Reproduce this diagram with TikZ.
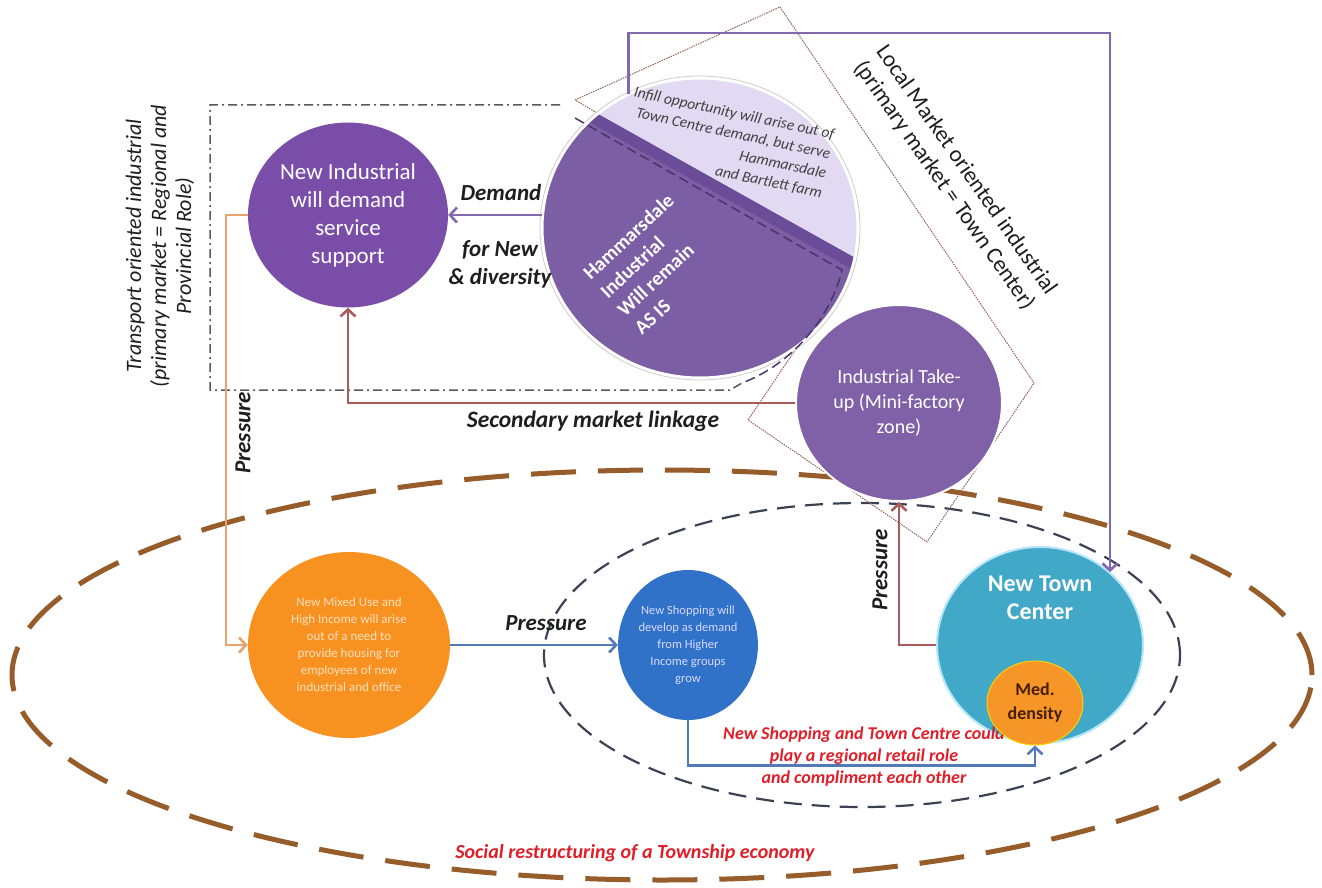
\documentclass[tikz,border=0pt]{standalone}
\usepackage{fontspec}
\setmainfont{Carlito}
\usetikzlibrary{shapes.geometric, arrows.meta, positioning, calc}

\definecolor{indpurple}{RGB}{122,78,168}
\definecolor{hammdark}{RGB}{124,94,164}
\definecolor{hammband}{RGB}{106,76,152}
\definecolor{hammlight}{RGB}{226,218,242}
\definecolor{takepurple}{RGB}{128,97,168}
\definecolor{towncyan}{RGB}{66,168,200}
\definecolor{mixorange}{RGB}{247,146,32}
\definecolor{shopblue}{RGB}{48,114,200}
\definecolor{medorange}{RGB}{246,150,40}
\definecolor{medtext}{RGB}{70,30,0}
\definecolor{linkpurple}{RGB}{130,104,172}
\definecolor{linkred}{RGB}{170,92,92}
\definecolor{linkorange}{RGB}{232,162,112}
\definecolor{linkblue}{RGB}{82,122,182}
\definecolor{ringbrown}{RGB}{150,92,42}
\definecolor{ringgray}{RGB}{58,66,84}
\definecolor{boxbrown}{RGB}{150,100,90}
\definecolor{notered}{RGB}{224,30,40}
\definecolor{labelink}{RGB}{30,30,30}

\begin{document}
\begin{tikzpicture}[x=1pt, y=-1pt,
    bubble/.style={ellipse, inner sep=0pt, align=center, text=white},
    arr/.style={-{Straight Barb[length=7pt, width=15pt]}, line width=2.6pt},
    lbl/.style={font=\fontsize{23}{28}\selectfont\bfseries\itshape, text=labelink, align=center},
    boxline/.style={draw=boxbrown, line width=1pt, dash pattern=on 1.5pt off 1pt},
]
    \useasboundingbox (0,0) rectangle (1322,888);

    % zones
    \draw[ringbrown, line width=5pt, dash pattern=on 45pt off 22pt] (662,675) ellipse [x radius=650pt, y radius=205pt];
    \draw[ringgray, line width=2.2pt, dash pattern=on 18pt off 10pt] (862,655) ellipse [x radius=318pt, y radius=152pt];
    \draw[gray!70!black, line width=1.5pt, dash pattern=on 9pt off 4pt on 2pt off 4pt] (560,105) -- (210,105) -- (210,390) -- (730,390) -- (742,383);
    \draw[boxline] (575,100) -- (780,7) -- (1034,383) -- (927,542) -- (748,420) -- (853,264) -- cycle;

    % circles
    \node[bubble, fill=indpurple, minimum width=200pt, minimum height=185pt, font=\fontsize{23}{28}\selectfont] (ind) at (348,215) {New Industrial\\will demand\\service\\support};
    \node[ellipse, fill=hammdark, minimum width=316pt, minimum height=300pt] (hamm) at (700,228) {};
    \begin{scope}
        \clip (700,228) ellipse [x radius=158pt, y radius=150pt];
        \fill[hammlight] (480,48) -- (1000,339) -- (1000,0) -- (480,0) -- cycle;
        \fill[hammband] (480,48) -- (1000,339) -- (1000,352) -- (480,61) -- cycle;
    \end{scope}
    \draw[white, line width=3pt] (700,228) ellipse [x radius=158pt, y radius=150pt];
    \draw[gray!40, line width=0.8pt] (700,228) ellipse [x radius=160pt, y radius=152pt];
    \draw[hammband!70!black, line width=1.5pt, dash pattern=on 10pt off 5pt] (575,118) -- (842,270) .. controls (830,320) and (790,365) .. (742,383);
    \node[rotate=43, align=left, text=white, font=\fontsize{20}{25}\selectfont\bfseries] (hammtxt) at (654,264) {Hammarsdale\\Industrial\\Will remain\\AS IS};
    \node[rotate=-12, align=right, text=labelink!85, font=\fontsize{15.5}{20}\selectfont\itshape] (infill) at (728,143) {Infill opportunity will arise out of\\Town Centre demand, but serve\\Hammarsdale\\and Bartlett farm};

    \node[bubble, fill=takepurple, draw=white, line width=2pt, minimum width=206pt, minimum height=196pt, font=\fontsize{20}{25}\selectfont] (take) at (899,403) {Industrial Take-\\up (Mini-factory\\zone)};
    \node[bubble, fill=towncyan, draw=white!70!cyan, line width=2pt, minimum width=206pt, minimum height=196pt] (town) at (1040,645) {};
    \node[text=white, align=center, font=\fontsize{24}{28}\selectfont\bfseries] (towntxt) at (1040,598) {New Town\\Center};
    \node[bubble, fill=mixorange, minimum width=202pt, minimum height=186pt, text=orange!25!white, font=\fontsize{13}{17}\selectfont] (mixed) at (349,645) {New Mixed Use and\\High Income will arise\\out of a need to\\provide housing for\\employees of new\\industrial and office};
    \node[bubble, fill=shopblue, minimum width=125pt, minimum height=150pt, text=white!85!blue, font=\fontsize{12.5}{17}\selectfont] (shop) at (688,645) {New Shopping will\\develop as demand\\from Higher\\Income groups\\grow};

    % note under the med. density circle
    \node[lbl, text=notered, font=\fontsize{18}{22}\selectfont\bfseries\itshape] (note) at (864,757) {New Shopping and Town Centre could\\play a regional retail role\\and compliment each other};
    \node[bubble, fill=medorange, draw=yellow!70!orange, line width=1pt, minimum width=96pt, minimum height=84pt, text=medtext, font=\fontsize{18}{24}\selectfont\bfseries] (med) at (1035,703) {Med.\\density};

    % connectors
    \coordinate (bend) at (1110,33);
    \draw[arr, linkpurple] (hamm.west |- ind.east) -- (ind.east);
    \draw[arr, linkpurple] (hamm.118) |- (bend) -- (bend |- town.46);
    \draw[arr, linkred] (take.west) -| (ind.south);
    \draw[arr, linkorange] (ind.west) -- ++(-22,0) |- (mixed.west);
    \draw[arr, linkblue] (mixed.east) -- (shop.west);
    \draw[arr, linkblue] (shop.south) -- ++(0,45) -| (med.south);
    \draw[arr, linkred] (town.west) -| (take.south);

    % labels
    \node[lbl] (demand) at (501,193) {Demand};
    \node[lbl] (fornew) at (500,264) {for New\\\& diversity};
    \node[lbl, font=\fontsize{23.5}{28}\selectfont\bfseries\itshape] (secondary) at (593,421) {Secondary market linkage};
    \node[lbl, rotate=90] (press1) at (243,433) {Pressure};
    \node[lbl] (press2) at (546,623) {Pressure};
    \node[lbl, rotate=90] (press3) at (880,570) {Pressure};
    \node[lbl, text=notered, font=\fontsize{20}{24}\selectfont\bfseries\itshape] (social) at (635,853) {Social restructuring of a Township economy};
    \node[rotate=90, align=center, text=labelink, font=\fontsize{22}{25}\selectfont\itshape] (transport) at (160,246) {Transport oriented industrial\\(primary market = Regional and\\Provincial Role)};
    \node[rotate=-55, align=center, text=labelink, font=\fontsize{23}{27}\selectfont] (local) at (955,178) {Local Market oriented industrial\\(primary market = Town Center)};
\end{tikzpicture}
\end{document}
